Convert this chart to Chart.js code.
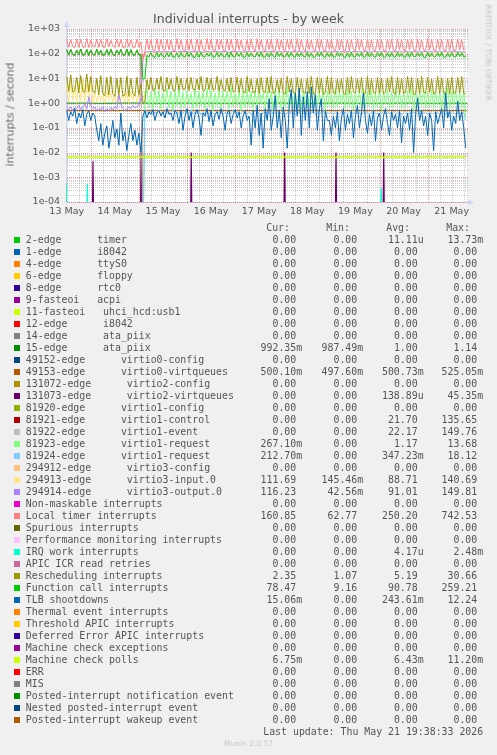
<!DOCTYPE html>
<html><head><meta charset="utf-8">
<script src="https://cdn.jsdelivr.net/npm/chart.js@4.4.1/dist/chart.umd.min.js"></script>
<style>
html,body{margin:0;padding:0;background:#f0f0f0;}
#wrap{position:relative;width:497px;height:755px;overflow:hidden;background:#f0f0f0;}
#c{position:absolute;left:0;top:0;}
.t{position:absolute;white-space:pre;color:#555;font-family:"DejaVu Sans";}
.m{position:absolute;white-space:pre;color:#555;font-family:"DejaVu Sans Mono";font-size:9.9px;line-height:12px;}
.sq{position:absolute;width:6px;height:6px;}
</style></head>
<body><div id="wrap">
<canvas id="c" width="497" height="225"></canvas>
<div class="t" style="left:0;top:13.4px;width:497px;text-align:center;font-size:12.5px;line-height:12.5px;">Individual interrupts - by week</div>
<div class="t" style="left:-70px;top:109px;width:160px;text-align:center;font-size:11px;line-height:11px;color:#666;transform:rotate(-90deg);">interrupts / second</div>
<div class="t" style="left:427.5px;top:49.2px;width:120px;text-align:center;font-size:7.5px;line-height:7.5px;color:#c4c4c4;transform:rotate(90deg);">RRDTOOL / TOBI OETIKER</div>
</div>
<script>
// ---------------- data ----------------
const dayLabels = ['13 May','14 May','15 May','16 May','17 May','18 May','19 May','20 May','21 May'];
const yDecades = [1e-4,1e-3,1e-2,1e-1,1e0,1e1,1e2,1e3];
const yTickLabels = ['1e-04','1e-03','1e-02','1e-01','1e+00','1e+01','1e+02','1e+03'];
// hours are counted from 13 May 00:00; hourly samples start at 12:00
const sampleStart = 12;

const localTimer = [390,185,370,195,175,400,180,380,190,172,410,178,360,205,185,395,180,385,188,176,405,192,350,200,182,390,186,375,178,170,400,195,365,185,178,385,190,300,
63,120,
395,145,370,140,130,405,135,380,150,133,390,143,360,137,127,410,147,375,141,131,385,139,395,145,129,
400,133,365,143,135,415,141,380,139,127,390,149,370,135,131,400,137,385,145,125,395,143,360,141,133,
380,135,405,147,129,410,141,370,139,127,390,145,385,133,131,400,139,365,143,135,385,147,395,137,129,
405,135,375,145,127,395,143,360,141,133,410,137,380,139,125,390,149,370,143,131,400,141,390,135,129,
385,133,365,147,127,415,145,380,139,133,395,137,375,143,131,400,141,360,135,125,390,147,385,141,129,
405,139,370,137,133,385,143,395,145,127,400,135,365,141,131,410,141,380,139,129,390,145,375,143,127,
395,137,385,135,133,400,143,370,141,160.85];

const functionCall = [145,88,150,92,86,140,90,155,87,92,148,85,142,94,88,152,90,138,86,91,146,88,150,92,85,140,94,148,88,90,155,86,144,90,87,142,90,95,
9.2,10,
85,74,110,76,71,112,73,107,78,72,109,75,113,72,74,106,71,111,77,73,114,76,108,73,70,
110,72,112,75,74,107,78,109,71,73,113,74,106,76,72,111,70,114,74,75,108,77,110,72,71,
112,73,107,76,74,109,75,113,71,73,106,72,111,78,70,114,76,108,73,74,110,71,112,75,72,
107,74,109,77,73,113,72,106,70,75,111,76,114,74,71,108,73,110,72,74,112,77,107,75,70,
109,71,113,73,76,106,75,111,72,74,114,73,108,77,71,110,76,112,70,73,107,72,109,75,74,
113,74,106,73,72,111,71,114,76,75,108,77,110,72,70,112,73,107,74,76,109,75,113,71,73,
106,72,111,77,74,114,76,108,73,78.47];

const virtio1Control = [145,88,150,92,86,140,90,155,87,92,148,85,142,94,88,152,90,138,86,91,146,88,150,92,85,140,94,148,88,90,155,86,144,90,87,142,90,95,0];
const virtio1Event   = [145,88,150,92,86,140,90,155,87,92,148,85,142,94,88,152,90,138,86,91,146,88,150,92,85,140,94,148,88,90,155,86,144,90,87,142,90,95,0];

const rescheduling = [12,3,14,2.8,3.2,11,2.6,13,3,2.7,15,2.9,12,3.1,2.5,10,2.2,13,2.4,2,11,2.1,12,2.3,1.9,10,2.2,11,2,2.1,12,1.9,10,2.3,2,11,2.1,6,
1.1,1.07,
9,3.4,11,3.2,3.6,10,3.5,12,3.3,3.1,11,3.6,9.5,3.4,3.2,12,3.3,10,3.5,3.7,10,3.2,11,3.6,3.3,
9.5,3.4,12,3.1,3.5,11,3.5,10,3.3,3.6,12,3.2,9,3.4,3.1,10,3,11,2.8,3.2,11.5,2.7,10,3,2.6,
12,2.9,9.5,2.6,2.8,10,2.5,11,2.9,2.7,11,2.6,12,2.4,2.8,9,2.7,10.5,2.5,2.3,12,2.8,10,2.6,2.4,
11,2.2,9.5,2.7,2.5,10,2.4,12,2.3,2.6,11,2.5,10,2.2,2.8,12,2.3,11,2.6,2.4,9.5,2.7,10,2.5,2.2,
11,2.4,12,2.8,2.6,10,2.6,11,2.3,2.5,12,2.2,9.5,2.7,2.4,11,2.5,10,2.4,2.8,10.5,2.8,12,2.6,2.3,
11,2.3,10,2.5,2.7,12,2.6,11,2.2,2.4,10,2.4,12,2.8,2.5,11,2.7,9.5,2.3,2.6,12,2.5,10.5,2.6,2.2,
10,2.3,11,2.4,2.7,11,2.6,12,2.5,2.35];

const virtio3Input = [6,1.1,8,1.3,5,1.0,7,1.2,9,1.1,6,1.4,8,1.0,2.5,1.1,2.8,1.2,2.2,1.0,3,1.3,2.6,1.1,2.4,1.0,2.9,1.2,2.3,1.1,2.7,1.0,2.5,1.3,2.8,1.1,2.2,1.5,
40,100,
110,108,112,107,111,109,113,106,110,108,111,107,109,112,108,110,106,111,109,113,
108,110,107,111,109,112,108,106,110,109,112,108,110,107,111,109,106,112,108,110,
109,111,107,110,113,108,109,106,111,108,110,107,112,109,108,111,106,110,109,112,
108,110,109,107,111,108,112,109,106,110,111,109,107,112,108,110,109,111,107,108,
109,106,110,108,112,109,107,111,110,108,112,108,109,111,106,110,108,109,112,107,
108,111,110,107,109,112,108,106,110,109,110,108,112,109,107,111,109,108,106,111,
109,112,107,110,108,109,111,107,110,108,106,110,109,112,108,107,110,111,109,108,
111,108,110,106,109,112,108,110,107,109,108,110,107,111,109,108,112,109,110,111.69];

const virtio3Output = [0.6,0.55,0.7,0.5,0.65,0.6,0.8,0.55,0.7,0.9,0.6,1.8,0.8,0.6,0.7,0.5,0.6,0.55,0.7,0.45,0.6,0.5,0.65,0.55,0.7,0.6,2.2,0.9,0.6,0.5,0.55,0.7,0.6,0.8,0.65,0.7,0.9,1.5,
60,110,
121,117,124,119,115,122,126,118,120,114,123,119,117,125,121,116,120,124,118,122,
119,115,123,120,117,126,121,118,114,122,124,120,117,121,119,125,116,122,118,123,
120,114,121,126,119,117,123,118,122,115,125,121,118,120,124,117,119,123,116,121,
122,118,125,119,115,121,124,120,117,123,119,122,116,124,120,118,126,121,115,119,
123,117,121,119,125,118,122,116,120,124,118,121,115,123,119,126,117,122,120,114,
124,120,118,122,116,121,125,119,117,123,121,115,119,124,120,118,122,117,126,119,
116,123,121,118,120,125,119,122,115,121,124,117,120,123,118,121,116,122,119,125,
120,118,123,115,121,119,124,117,122,120,118,122,119,125,117,121,123,116,120,116.23];

// virtio1-request series start at hour 50 (15 May 02:00)
const virtio1RequestStart = 50;
const virtio1Request = [0,3,
3.5,0.7,2.8,0.6,4.2,0.8,3.1,0.6,2.6,0.9,3.8,0.7,2.9,0.5,3.3,0.8,4.5,0.6,2.7,0.7,
3.2,0.9,2.5,0.6,3.9,0.7,3,0.8,2.8,0.6,4,0.7,3.4,0.5,2.6,0.8,3.7,0.6,3.1,0.9,
2.9,0.6,4.3,0.7,2.7,0.8,3.5,0.5,3,0.7,3.6,0.8,2.8,0.6,3.2,0.7,4.1,0.9,2.6,0.6,
3.3,0.7,2.9,0.5,3.8,0.8,3,0.6,2.7,0.7,4.4,0.6,3.1,0.8,2.8,0.7,3.5,0.5,3.2,0.9,
2.6,0.7,3.9,0.6,3,0.8,2.9,0.7,3.6,0.5,3.2,0.8,2.7,0.6,4.2,0.7,3.1,0.9,2.8,0.6,
3.7,0.7,3,0.5,2.6,0.8,3.4,0.6,4,0.7,2.9,0.8,3.3,0.6,2.7,0.7,3.8,0.5,3.1,0.9,
3.5,0.6,2.8,0.7,4.3,0.8,3,0.6,2.6,0.7,3.2,0.9,3.6,0.5,2.9,0.7,3.1,0.8,3.9,0.6,
2.7,0.7,3.4,0.6,3,0.8,2.8,0.5,3.6,0.7,4.1,0.6,2.9,0.8,3.2,0.7,2.7,0.6,3.3,0.267];
const virtio1Request2 = [0,0.5,
0.42,0.36,0.48,0.33,0.45,0.39,0.52,0.35,0.41,0.47,0.38,0.44,0.34,0.5,0.4,0.36,0.46,0.32,0.43,0.49,
0.37,0.41,0.55,0.35,0.44,0.39,0.47,0.33,0.42,0.38,0.5,0.36,0.43,0.4,0.34,0.48,0.39,0.45,0.37,0.41,
0.46,0.33,0.42,0.51,0.38,0.44,0.35,0.4,0.47,0.36,0.39,0.45,0.34,0.43,0.49,0.37,0.41,0.32,0.46,0.4,
0.44,0.38,0.5,0.35,0.42,0.39,0.47,0.36,0.43,0.33,0.41,0.48,0.37,0.44,0.34,0.46,0.4,0.52,0.38,0.42,
0.35,0.43,0.39,0.47,0.33,0.41,0.45,0.37,0.5,0.36,0.44,0.38,0.42,0.34,0.48,0.4,0.36,0.46,0.39,0.43,
0.37,0.49,0.35,0.41,0.45,0.38,0.43,0.33,0.47,0.4,0.42,0.36,0.44,0.51,0.37,0.4,0.34,0.46,0.39,0.45,
0.38,0.43,0.35,0.48,0.41,0.37,0.44,0.32,0.42,0.47,0.36,0.4,0.46,0.39,0.43,0.35,0.5,0.38,0.41,0.44,
0.34,0.47,0.4,0.37,0.45,0.42,0.36,0.48,0.39,0.33,0.43,0.38,0.46,0.41,0.35,0.44,0.4,0.37,0.42,0.2127];

const tlbShootdowns = [0.5,0.2,0.45,0.3,0.6,0.15,0.4,0.25,0.55,0.12,0.35,0.5,0.2,0.4,0.3,
0.08,0.03,0.15,0.02,0.06,0.12,0.015,0.05,0.2,0.04,0.09,0.02,0.4,0.03,0.07,0.012,0.05,0.15,0.03,0.08,0.02,0.06,0.01,
0.3,0.5,0.25,0.45,0.35,0.55,0.2,0.4,0.5,0.3,0.45,0.25,0.6,0.35,0.4,0.2,0.5,
0.4,0.15,0.5,0.08,0.3,0.6,0.2,0.45,0.1,0.35,0.55,0.25,0.05,0.4,0.3,0.6,0.18,0.5,0.12,0.35,
0.45,0.22,0.6,0.3,0.08,0.4,0.5,0.15,0.35,0.55,0.25,0.45,0.1,0.3,0.5,0.2,
0.3,0.02,0.5,0.1,0.8,0.05,0.4,0.015,0.6,0.2,1.5,0.08,0.3,2.0,0.1,0.5,0.04,0.7,0.2,0.015,
0.9,3.5,0.1,2.5,0.3,4.0,0.05,1.8,0.2,3.0,0.1,4.5,0.4,2.2,0.08,0.6,1.5,0.03,0.5,0.2,
0.2,0.05,0.3,0.1,0.45,0.03,0.25,0.6,0.08,0.35,0.15,0.5,0.04,0.3,0.8,0.1,0.4,2.5,0.2,0.06,
0.35,0.12,0.5,0.03,0.25,0.4,0.08,0.3,0.6,0.15,0.05,0.45,0.2,0.35,0.1,0.5,0.025,0.3,0.15,0.4,
0.08,0.6,0.01,0.35,1.6,0.2,0.5,0.12,0.3,0.05,0.4,0.2,0.012,0.45,0.15,0.3,0.6,0.1,2.6,0.25,
0.5,0.08,0.3,0.15,1.2,0.2,0.45,0.1,0.01506];

const mcPollsMilli = [6.3,6.9,6.2,7.0,6.4,6.8,6.2,7.1,6.3,6.9,6.2,7.0,6.3,6.8,6.2,7.1,6.4,6.9,6.3,7.0,
6.2,6.9,6.3,7.1,6.2,6.8,6.4,7.0,6.3,6.9,6.4,7.0,6.2,6.9,6.3,7.1,6.2,6.8,6.3,7.0,
6.2,6.9,6.4,7.0,6.3,6.8,6.2,7.1,6.3,6.9,6.3,7.0,6.2,6.9,6.4,7.1,6.3,6.8,6.2,7.0,
6.4,6.9,6.3,7.0,6.2,6.8,6.3,7.1,6.2,6.9,6.2,7.1,6.4,6.9,6.3,7.0,6.2,6.8,6.4,7.0,
6.3,6.9,6.2,7.0,6.3,7.1,6.4,6.9,6.2,6.8,6.4,7.0,6.3,6.9,6.2,7.0,6.3,7.1,6.2,6.9,
6.3,6.8,6.2,7.0,6.4,6.9,6.3,7.1,6.2,7.0,6.2,6.9,6.3,7.0,6.2,6.8,6.4,7.0,6.3,7.1,
6.4,6.9,6.2,7.1,6.3,6.9,6.2,7.0,6.3,6.8,6.3,7.0,6.4,6.9,6.2,7.1,6.3,6.8,6.4,7.0,
6.2,6.9,6.3,7.0,6.4,6.8,6.2,7.1,6.3,6.9,6.3,7.1,6.2,6.9,6.3,7.0,6.4,6.9,6.2,7.0,
6.4,6.8,6.3,7.0,6.2,6.9,6.3,7.1,6.4,6.9,6.2,7.0,6.3,6.9,6.4,7.1,6.2,6.8,6.3,7.0,
6.3,6.9,6.2,7.0,6.3,6.8,6.4,7.1,6.2,6.9,6.4,7.0,6.3,6.9,6.2,7.1,6.3,6.8,6.4,6.75];

// flat series, one sample every 8 hours
const flatStep = 8;
const ata15 = [1.0,1.01,0.99,1.0,1.02,1.0,0.99,1.01,1.0,1.0,0.99,1.01,1.0,1.02,1.0,0.99,1.0,1.01,1.0,0.99,1.0,1.01,1.0,0.99,1.0,0.992];
const virtio0Queues = [0.5,0.501,0.5,0.499,0.5,0.502,0.5,0.5,0.499,0.501,0.5,0.5,0.502,0.5,0.499,0.5,0.501,0.5,0.5,0.499,0.501,0.5,0.5,0.502,0.5,0.5001];

// short spikes: [start hour, peak hour, end hour, peak value]
const virtio2QueueSpikes = [[24.6,25.1,25.6,0.0045],[48.6,49.1,49.6,0.01],[73.6,74.1,74.6,0.01],[120.2,120.7,121.2,0.01],[145.8,146.3,146.8,0.01],[169.6,170.1,170.6,0.01]];
const irqWorkSpikes = [[11.4,11.7,12.4,0.00058],[21.9,22.3,22.8,0.00056],[167.8,168.9,169.3,0.00037]];

// legend
const legendLabels = ['2-edge      timer','1-edge      i8042','4-edge      ttyS0','6-edge      floppy','8-edge      rtc0','9-fasteoi   acpi','11-fasteoi   uhci_hcd:usb1','12-edge      i8042','14-edge      ata_piix','15-edge      ata_piix','49152-edge      virtio0-config','49153-edge      virtio0-virtqueues','131072-edge      virtio2-config','131073-edge      virtio2-virtqueues','81920-edge      virtio1-config','81921-edge      virtio1-control','81922-edge      virtio1-event','81923-edge      virtio1-request','81924-edge      virtio1-request','294912-edge      virtio3-config','294913-edge      virtio3-input.0','294914-edge      virtio3-output.0','Non-maskable interrupts','Local timer interrupts','Spurious interrupts','Performance monitoring interrupts','IRQ work interrupts','APIC ICR read retries','Rescheduling interrupts','Function call interrupts','TLB shootdowns','Thermal event interrupts','Threshold APIC interrupts','Deferred Error APIC interrupts','Machine check exceptions','Machine check polls','ERR','MIS','Posted-interrupt notification event','Nested posted-interrupt event','Posted-interrupt wakeup event'];
const legendColors = ['#00CC00','#0066B3','#FF8000','#FFCC00','#330099','#990099','#CCFF00','#FF0000','#808080','#008F00','#00487D','#B35A00','#B38F00','#6B006B','#8FB300','#B30000','#BEBEBE','#80FF80','#80C9FF','#FFC080','#FFE680','#AA80FF','#EE00CC','#FF8080','#666600','#FFBFFF','#00FFCC','#CC6699','#999900','#00CC00','#0066B3','#FF8000','#FFCC00','#330099','#990099','#CCFF00','#FF0000','#808080','#008F00','#00487D','#B35A00'];
const curVals = ['0.00','0.00','0.00','0.00','0.00','0.00','0.00','0.00','0.00','992.35m','0.00','500.10m','0.00','0.00','0.00','0.00','0.00','267.10m','212.70m','0.00','111.69','116.23','0.00','160.85','0.00','0.00','0.00','0.00','2.35','78.47','15.06m','0.00','0.00','0.00','0.00','6.75m','0.00','0.00','0.00','0.00','0.00'];
const minVals = ['0.00','0.00','0.00','0.00','0.00','0.00','0.00','0.00','0.00','987.49m','0.00','497.60m','0.00','0.00','0.00','0.00','0.00','0.00','0.00','0.00','145.46m','42.56m','0.00','62.77','0.00','0.00','0.00','0.00','1.07','9.16','0.00','0.00','0.00','0.00','0.00','0.00','0.00','0.00','0.00','0.00','0.00'];
const avgVals = ['11.11u','0.00','0.00','0.00','0.00','0.00','0.00','0.00','0.00','1.00','0.00','500.73m','0.00','138.89u','0.00','21.70','22.17','1.17','347.23m','0.00','88.71','91.01','0.00','250.20','0.00','0.00','4.17u','0.00','5.19','90.78','243.61m','0.00','0.00','0.00','0.00','6.43m','0.00','0.00','0.00','0.00','0.00'];
const maxVals = ['13.73m','0.00','0.00','0.00','0.00','0.00','0.00','0.00','0.00','1.14','0.00','525.05m','0.00','45.35m','0.00','135.65','149.76','13.68','18.12','0.00','140.69','149.81','0.00','742.53','0.00','0.00','2.48m','0.00','30.66','259.21','12.24','0.00','0.00','0.00','0.00','11.20m','0.00','0.00','0.00','0.00','0.00'];
const lastUpdate = 'Last update: Thu May 21 19:38:33 2026';
const muninVersion = 'Munin 2.0.57';

// ---------------- build ----------------
// a zero cannot sit on a log axis; like rrdtool, send it below the visible floor
const belowFloor = yDecades[0] / 100;
function plotY(v) { return v === null ? null : (v === 0 ? belowFloor : v); }
function series(values, start, step, scale) {
  return values.map((v, i) => ({x: start + i * step, y: plotY(v * (scale || 1))}));
}
function spikes(list) {
  const pts = [];
  list.forEach(([a, p, b, v]) => {
    pts.push({x: a, y: plotY(0)}, {x: p, y: plotY(v)}, {x: b, y: plotY(0)}, {x: b + 0.05, y: null});
  });
  return pts;
}
const plotted = [
  [9, series(ata15, sampleStart, flatStep), 1],
  [11, series(virtio0Queues, sampleStart, flatStep), 1],
  [13, spikes(virtio2QueueSpikes), 1.2],
  [15, series(virtio1Control, sampleStart, 1), 1],
  [16, series(virtio1Event, sampleStart, 1), 1],
  [17, series(virtio1Request, virtio1RequestStart, 1), 1],
  [18, series(virtio1Request2, virtio1RequestStart, 1), 1],
  [20, series(virtio3Input, sampleStart, 1), 1],
  [21, series(virtio3Output, sampleStart, 1), 1],
  [23, series(localTimer, sampleStart, 1), 1],
  [26, spikes(irqWorkSpikes), 1.2],
  [28, series(rescheduling, sampleStart, 1), 1],
  [29, series(functionCall, sampleStart, 1), 1],
  [30, series(tlbShootdowns, sampleStart, 1), 1],
  [35, series(mcPollsMilli, sampleStart, 1, 0.001), 1.4]
];
const datasets = plotted.map(([idx, data, w]) => ({
  label: legendLabels[idx], data, borderColor: legendColors[idx], backgroundColor: legendColors[idx],
  borderWidth: w, pointRadius: 0, fill: false, tension: 0, spanGaps: false, order: -idx
}));

const yTicks = [];
for (let d = 0; d < yDecades.length - 1; d++) for (let m = 1; m <= 9; m++) yTicks.push(yDecades[d] * m);
yTicks.push(yDecades[yDecades.length - 1]);
const xTicks = [];
for (let h = 12; h <= 210; h += 6) xTicks.push(h);

function isDecade(v) { return yDecades.some(d => Math.abs(v / d - 1) < 1e-9); }

const gridPlugin = {
  id: 'rrdGrid',
  beforeDraw(chart) {
    const {ctx, chartArea: a} = chart;
    ctx.save(); ctx.fillStyle = '#ffffff';
    ctx.fillRect(a.left, a.top, a.right - a.left, a.bottom - a.top);
    ctx.restore();
  },
  beforeDatasetsDraw(chart) {
    const {ctx, chartArea: a, scales: {x, y}} = chart;
    ctx.save();
    ctx.strokeStyle = '#CFD6F8'; ctx.fillStyle = '#CFD6F8'; ctx.lineWidth = 1;
    ctx.beginPath(); ctx.moveTo(a.left + 0.5, a.bottom + 1); ctx.lineTo(a.left + 0.5, a.top - 4); ctx.stroke();
    ctx.beginPath(); ctx.moveTo(a.left, a.bottom + 0.5); ctx.lineTo(a.right + 3, a.bottom + 0.5); ctx.stroke();
    ctx.beginPath(); ctx.moveTo(a.left + 0.5, a.top - 8); ctx.lineTo(a.left - 2.5, a.top - 2); ctx.lineTo(a.left + 3.5, a.top - 2); ctx.closePath(); ctx.fill();
    ctx.beginPath(); ctx.moveTo(a.right + 7, a.bottom + 0.5); ctx.lineTo(a.right + 1, a.bottom - 2.5); ctx.lineTo(a.right + 1, a.bottom + 3.5); ctx.closePath(); ctx.fill();
    ctx.setLineDash([1, 1]);
    const minor = 'rgba(140,140,140,0.45)', major = 'rgba(220,60,60,0.5)';
    [false, true].forEach(drawMajor => {
      y.ticks.forEach(t => {
        const mj = isDecade(t.value);
        if (mj !== drawMajor) return;
        const py = Math.round(y.getPixelForValue(t.value)) + 0.5;
        ctx.strokeStyle = mj ? major : minor;
        ctx.beginPath(); ctx.moveTo(a.left + 1, py); ctx.lineTo(a.right + 1, py); ctx.stroke();
      });
      x.ticks.forEach(t => {
        const mj = t.value % 24 === 0;
        if (mj !== drawMajor) return;
        const px = Math.round(x.getPixelForValue(t.value)) + 0.5;
        ctx.strokeStyle = mj ? major : minor;
        ctx.beginPath(); ctx.moveTo(px, a.top); ctx.lineTo(px, a.bottom); ctx.stroke();
      });
    });
    ctx.restore();
  }
};

new Chart(document.getElementById('c'), {
  type: 'line',
  data: {datasets},
  plugins: [gridPlugin],
  options: {
    responsive: false, animation: false, devicePixelRatio: 1,
    layout: {padding: {top: 29, right: 30, left: 0, bottom: 0}},
    plugins: {legend: {display: false}, title: {display: false}, tooltip: {enabled: false}},
    scales: {
      x: {
        type: 'linear', min: 11.64, max: 211.64,
        grid: {display: false, drawTicks: false}, border: {display: false},
        afterBuildTicks: s => { s.ticks = xTicks.map(v => ({value: v})); },
        afterFit: s => { s.height = 23; },
        ticks: {
          autoSkip: false, maxRotation: 0, minRotation: 0, padding: 4,
          color: '#555', font: {family: 'DejaVu Sans', size: 9.5},
          callback: v => ((v - 12) % 24 === 0 ? dayLabels[(v - 12) / 24] : '')
        }
      },
      y: {
        type: 'logarithmic', min: yDecades[0], max: yDecades[yDecades.length - 1],
        grid: {display: false, drawTicks: false}, border: {display: false},
        afterBuildTicks: s => { s.ticks = yTicks.map(v => ({value: v})); },
        afterFit: s => { s.width = 66; },
        ticks: {
          autoSkip: false, padding: 6, color: '#555', font: {family: 'DejaVu Sans', size: 9.5},
          callback: v => { const i = yDecades.findIndex(d => Math.abs(v / d - 1) < 1e-9); return i >= 0 ? yTickLabels[i] : ''; }
        }
      }
    }
  }
});

// legend table as html text
const wrap = document.getElementById('wrap');
function put(cls, text, css) {
  const d = document.createElement('div');
  d.className = cls; d.textContent = text; Object.assign(d.style, css); wrap.appendChild(d); return d;
}
const colRight = [302.2, 363.2, 423.6, 483.2];
const headLeft = [266.2, 326.2, 386.2, 446.2];
['Cur:', 'Min:', 'Avg:', 'Max:'].forEach((h, j) => put('m', h, {left: headLeft[j] + 'px', top: '222.3px'}));
function fmt(s) { return /[a-z]$/.test(s) ? s : s + ' '; }
legendLabels.forEach((lab, k) => {
  const top = 234.3 + 12 * k;
  const sq = document.createElement('div'); sq.className = 'sq';
  Object.assign(sq.style, {left: '14px', top: (237.3 + 12 * k) + 'px', background: legendColors[k]}); wrap.appendChild(sq);
  put('m', lab, {left: '25.8px', top: top + 'px'});
  [curVals, minVals, avgVals, maxVals].forEach((arr, j) => {
    put('m', fmt(arr[k]), {right: (497 - colRight[j]) + 'px', top: top + 'px', textAlign: 'right'});
  });
});
put('m', lastUpdate, {right: (497 - 483.2) + 'px', top: '726.1px', textAlign: 'right'});
put('t', muninVersion, {left: '0px', width: '497px', textAlign: 'center', top: '740.3px', fontSize: '7.5px', lineHeight: '7.5px', color: '#c8c8c8'});
</script>
</body></html>
